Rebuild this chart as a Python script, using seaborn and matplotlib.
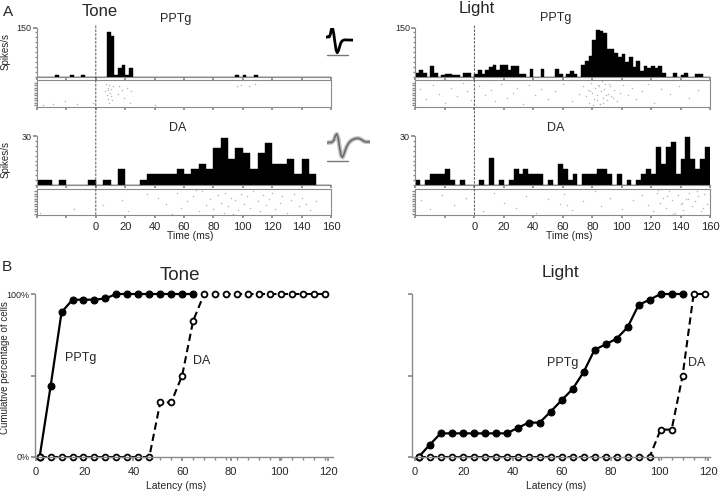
import matplotlib
matplotlib.use("Agg")
import matplotlib.pyplot as plt
import numpy as np
import pandas as pd
import seaborn as sns
from matplotlib.patches import ConnectionPatch

W, H = 720, 492

# ---- panel A: firing rate per bin (spikes/s), bins run from -40 to 160 ms ----
tone_pptg_rate = [
    0, 0, 0, 0, 0, 7, 0, 0, 0, 7,
    0, 0, 7, 0, 0, 0, 0, 0, 0, 135,
    125, 7, 27, 35, 7, 27, 0, 0, 0, 0,
    0, 0, 0, 0, 0, 0, 0, 0, 0, 0,
    0, 0, 0, 0, 0, 0, 0, 0, 0, 0,
    0, 0, 0, 0, 7, 0, 7, 0, 0, 7,
    0, 0, 0, 0, 0, 0, 0, 0, 0, 0,
    0, 0, 0, 0, 0, 0, 0, 0, 0, 0,
]
tone_da_rate = [
    3, 3, 0, 3, 0, 0, 0, 3, 0, 3,
    0, 9.5, 0, 0, 3, 6.5, 6.5, 6.5, 6.5, 9.5,
    6.5, 9.5, 13, 9.5, 22.5, 28.5, 16, 22.5, 19.5, 9.5,
    19.5, 25.5, 13, 13, 16, 6.5, 16, 6.5, 0, 0,
]
light_pptg_rate = [
    13, 20, 13, 0, 32, 12, 0, 6, 10, 10,
    6, 6, 0, 13, 13, 0, 8, 22, 10, 22,
    30, 37, 22, 36, 36, 22, 34, 34, 8, 8,
    0, 24, 0, 0, 24, 0, 0, 0, 24, 8,
    0, 8, 18, 8, 0, 36, 47, 65, 113, 142,
    140, 132, 86, 86, 72, 60, 70, 44, 60, 31,
    50, 18, 34, 27, 34, 27, 34, 13, 0, 0,
    13, 0, 6, 13, 0, 0, 8, 8, 0, 0,
]
light_da_rate = [
    3, 0, 3, 6.5, 6.5, 6.5, 10, 3, 0, 3,
    0, 0, 0, 3, 0, 16.5, 0, 3, 0, 3,
    9.5, 6.5, 9.5, 6.5, 6.5, 6.5, 0, 3, 0, 13,
    9.5, 3, 6.5, 0, 6.5, 6.5, 6.5, 9.5, 9.5, 6.5,
    0, 6.5, 0, 3, 0, 3, 6.5, 9.5, 6.5, 23,
    13, 23, 26.5, 6.5, 16, 29.5, 16, 9.5, 16, 23,
]

# raster ticks: spike time (ms) and trial number
tone_pptg_spk = [-29, -21, -13, -2, 6, 7, 7.5, 8, 8, 8.5, 9, 9, 9.5, 10, 10, 11, 12, 15, 16, 18,
                 19, 21, 23, 24, 96, 99, 104, 108, 40, -36]
tone_pptg_trial = [2, 4, 2, 3, 12, 18, 9, 15, 6, 13, 3, 17, 11, 8, 14, 5, 16, 10, 16, 13,
                   7, 15, 3, 12, 16, 17, 16, 18, 1, 1]
tone_da_spk = [-38, -15, 5, 18, 22, 35, 42, 48, 55, 58, 62, 66, 70, 72, 75, 78, 80, 83, 85, 87,
               88, 90, 92, 95, 97, 99, 101, 103, 105, 107, 110, 112, 114, 116, 118, 120, 122, 125, 127, 130,
               133, 135, 138, 140, 143, 146, 150, 52, 68, 93]
tone_da_trial = [2, 5, 8, 12, 3, 17, 14, 9, 18, 6, 11, 15, 3, 19, 8, 13, 5, 16, 10, 2,
                 18, 7, 14, 12, 4, 17, 9, 15, 6, 19, 11, 3, 16, 8, 13, 18, 5, 10, 15, 2,
                 12, 17, 7, 14, 9, 4, 11, 1, 20, 1]
light_pptg_spk = [-37, -33, -28, -24, -20, -16, -12, -8, -5, -2, 3, 7, 11, 14, 18, 22, 26, 29, 33, 37,
                  41, 45, 50, 55, 60, 66, 71, 74, 76, 77, 78, 79, 80, 81, 82, 83, 84, 85, 86, 87,
                  88, 89, 90, 91, 92, 93, 95, 97, 99, 101, 104, 107, 110, 114, 118, 122, 127, 133, 139, 146,
                  152, 80.5, 83.5, 86.5, 89.5, 78.5, 84.5, 87.5, 91.5, 94]
light_pptg_trial = [14, 6, 17, 10, 3, 15, 8, 19, 12, 5, 16, 9, 13, 4, 18, 7, 11, 15, 2, 17,
                    9, 14, 6, 12, 18, 4, 10, 16, 8, 13, 3, 19, 11, 6, 15, 9, 17, 2, 12, 7,
                    14, 18, 5, 10, 16, 8, 13, 4, 11, 17, 9, 15, 6, 12, 18, 3, 14, 10, 16, 7,
                    13, 1, 5, 20, 9, 12, 16, 3, 18, 7]
light_da_spk = [-36, -30, -22, -14, -6, 6, 13, 20, 28, 35, 42, 50, 58, 61, 66, 74, 82, 86, 92, 100,
                108, 114, 118, 121, 124, 126, 128, 130, 132, 134, 136, 138, 140, 142, 144, 146, 148, 150, 152, 154,
                156, 158, 125, 135, 145, 155, 131, 141, 151, 63]
light_da_trial = [12, 5, 16, 8, 14, 3, 18, 10, 6, 15, 2, 13, 9, 17, 4, 11, 19, 7, 14, 5,
                  12, 16, 8, 3, 18, 10, 14, 6, 19, 12, 2, 16, 9, 4, 13, 18, 7, 11, 15, 3,
                  17, 9, 20, 1, 13, 6, 15, 10, 19, 8]

# spike waveform insets (arbitrary units)
pptg_wave = [0, 0.05, 0.1, 0.05, 0.3, 0.9, 1.0, 0.4, -0.5, -1.3, -1.6, -1.4, -1.0, -0.6, -0.4,
             -0.3, -0.26, -0.25, -0.25, -0.26, -0.26, -0.26, -0.27, -0.27, -0.27]
da_wave = [0, 0, 0.05, 0, 0.1, 0.3, 0.8, 1.0, 0.5, -0.6, -1.5, -1.68, -1.3, -0.8, -0.4, -0.1,
           0.1, 0.25, 0.35, 0.42, 0.47, 0.5, 0.5, 0.45, 0.35, 0.25, 0.15, 0.1, 0.1, 0.1, 0.1]

# ---- panel B: cumulative percentage of responsive cells by latency ----
latency = [1.5, 6, 10.5, 15, 19.5, 24, 28.5, 33, 37.5, 42, 46.5, 51, 55.5, 60, 64.5,
           69, 73.5, 78, 82.5, 87, 91.5, 96, 100.5, 105, 109.5, 114, 118.5]
tone_pptg_cum = [0, 43.4, 88.8, 96.5, 96.5, 96.5, 97.3, 100, 100, 100, 100, 100, 100, 100, 100]
tone_da_cum = [0, 0, 0, 0, 0, 0, 0, 0, 0, 0, 0, 33.5, 33.5, 50, 83.5,
               100, 100, 100, 100, 100, 100, 100, 100, 100, 100, 100, 100]
light_pptg_cum = [0, 7.4, 14.5, 14.5, 14.5, 14.5, 14.5, 14.5, 14.5, 17.8, 21.1, 21.1, 27.8, 34.8, 41.7,
                  52.1, 65.8, 69.1, 72.6, 79.6, 93.3, 96.5, 100, 100, 100]
light_da_cum = [0, 0, 0, 0, 0, 0, 0, 0, 0, 0, 0, 0, 0, 0, 0,
                0, 0, 0, 0, 0, 0, 0, 16.8, 16.8, 50, 100, 100]

time_ticks = [-40, -20, 0, 20, 40, 60, 80, 100, 120, 140, 160]
time_labels = ["", "", "0", "20", "40", "60", "80", "100", "120", "140", "160"]
lat_ticks = [0, 20, 40, 60, 80, 100, 120]

sns.set_theme(style="white")
plt.rcParams["font.family"] = ["Liberation Sans", "DejaVu Sans"]
SPINE = "#8a8a8a"


def px_axes(fig, x0, y0, x1, y1):
    return fig.add_axes([x0 / W, 1 - y1 / H, (x1 - x0) / W, (y1 - y0) / H])


def ftext(fig, x, y, s, size, **kw):
    fig.text(x / W, 1 - y / H, s, fontsize=size, ha=kw.pop("ha", "center"),
             va=kw.pop("va", "center"), **kw)


def draw_hist(ax, rate, ymax):
    n = len(rate)
    width = 200 / n
    df = pd.DataFrame({"t": [-40 + width * (i + 0.5) for i in range(n)], "rate": rate})
    sns.histplot(data=df, x="t", weights="rate", bins=n, binrange=(-40, 160), color="black",
                 alpha=1, edgecolor="black", linewidth=0.3, ax=ax)
    ax.set_xlim(-40, 160)
    ax.set_ylim(0, ymax)
    ax.set_xlabel("")
    ax.set_ylabel("")
    for side in ("top", "right"):
        ax.spines[side].set_visible(False)
    for side in ("left", "bottom"):
        ax.spines[side].set_color(SPINE)
        ax.spines[side].set_linewidth(0.8)
    ax.set_xticks(time_ticks)
    ax.set_xticklabels([])
    ax.set_yticks([ymax])
    ax.set_yticklabels([str(ymax)])
    ax.set_yticks(np.linspace(0, ymax, 11), minor=True)
    ax.tick_params(axis="x", length=2, color=SPINE, direction="out", bottom=True)
    ax.tick_params(axis="y", which="major", length=3, color=SPINE, labelsize=6.5, pad=1, left=True)
    ax.tick_params(axis="y", which="minor", length=1.5, color=SPINE, left=True)


def draw_raster(ax, spk, trial, labels):
    sns.scatterplot(x=spk, y=trial, s=1.2, color="#b8b8b8", linewidth=0, ax=ax)
    ax.set_xlim(-40, 160)
    ax.set_ylim(0, 21)
    ax.set_xlabel("")
    ax.set_ylabel("")
    for side in ax.spines:
        ax.spines[side].set_color(SPINE)
        ax.spines[side].set_linewidth(0.8)
    ax.set_xticks(time_ticks)
    ax.set_xticklabels(time_labels if labels else [])
    ax.set_yticks([])
    ax.set_yticks(np.arange(1, 21, 2), minor=True)
    ax.tick_params(axis="x", length=2, color=SPINE, labelsize=8, pad=3, bottom=True)
    ax.tick_params(axis="y", which="minor", length=2, color=SPINE, left=True)


def draw_cum(ax, pptg, da, xlim, show_ylabels):
    sns.lineplot(x=latency[:len(pptg)], y=pptg, color="black", linewidth=1.6,
                 marker="o", markersize=5, markerfacecolor="black", markeredgecolor="black",
                 clip_on=False, ax=ax)
    sns.lineplot(x=latency, y=da, color="black", linewidth=1.5, linestyle=(0, (3.5, 2)),
                 marker="o", markersize=4.2, markerfacecolor="white", markeredgecolor="black",
                 markeredgewidth=1.3, clip_on=False, ax=ax)
    ax.set_xlim(*xlim)
    ax.set_ylim(0, 100)
    ax.set_xlabel("")
    ax.set_ylabel("")
    for side in ("top", "right"):
        ax.spines[side].set_visible(False)
    for side in ("left", "bottom"):
        ax.spines[side].set_color(SPINE)
        ax.spines[side].set_linewidth(1.0)
    ax.set_xticks(lat_ticks)
    ax.set_xticks(latency, minor=True)
    ax.set_yticks([0, 50, 100])
    ax.set_yticklabels(["0%", "", "100%"] if show_ylabels else [])
    ax.tick_params(axis="x", which="major", length=3, color=SPINE, labelsize=8, pad=4, bottom=True)
    ax.tick_params(axis="x", which="minor", length=2, color=SPINE, bottom=True)
    ax.tick_params(axis="y", length=3, color=SPINE, labelsize=6.5, pad=1, left=True)


def draw_wave(ax, wave, ylim, bar, halo):
    x = np.arange(len(wave))
    if halo:
        sns.lineplot(x=x, y=wave, color="#c4c4c4", linewidth=3.2, ax=ax)
        sns.lineplot(x=x, y=wave, color="#6a6a6a", linewidth=1.2, ax=ax)
    else:
        sns.lineplot(x=x, y=wave, color="black", linewidth=2.0, ax=ax)
    ax.plot(bar[0], bar[1], color="#777777", linewidth=1.0)
    ax.set_xlim(0, len(wave) - 1)
    ax.set_ylim(*ylim)
    ax.axis("off")


fig = plt.figure(figsize=(W / 100, H / 100), dpi=100)

columns = [
    (37, 331, tone_pptg_rate, tone_da_rate, tone_pptg_spk, tone_pptg_trial, tone_da_spk, tone_da_trial),
    (415.5, 710, light_pptg_rate, light_da_rate, light_pptg_spk, light_pptg_trial, light_da_spk, light_da_trial),
]
for x0, x1, pr, dr, ps, pt, ds, dt in columns:
    ax_h1 = px_axes(fig, x0, 27.5, x1, 77)
    draw_hist(ax_h1, pr, 150)
    ax_r1 = px_axes(fig, x0, 80, x1, 106.5)
    draw_raster(ax_r1, ps, pt, False)
    ax_h2 = px_axes(fig, x0, 136, x1, 185)
    draw_hist(ax_h2, dr, 30)
    ax_r2 = px_axes(fig, x0, 189, x1, 215)
    draw_raster(ax_r2, ds, dt, True)
    zero = ConnectionPatch(xyA=(0, 155), coordsA=ax_h1.transData, xyB=(0, 0), coordsB=ax_r2.transData,
                           color="#555555", linewidth=0.7, linestyle=(0, (2, 2)))
    fig.add_artist(zero)

ax_w1 = px_axes(fig, 325.7, 28, 353.3, 57)
draw_wave(ax_w1, pptg_wave, (-2.05, 1.0), ([0.9, 19.1], [-1.85, -1.85]), False)
ax_w2 = px_axes(fig, 326.7, 132, 370, 163)
draw_wave(ax_w2, da_wave, (-2.34, 1.23), ([0, 15], [-2.07, -2.07]), True)

ax_b1 = px_axes(fig, 35, 294, 333, 457)
draw_cum(ax_b1, tone_pptg_cum, tone_da_cum, (-0.4, 121.9), True)
ax_b1.text(12, 60.7, "PPTg", fontsize=9, ha="left", va="center")
ax_b1.text(64.4, 59, "DA", fontsize=9, ha="left", va="center")

ax_b2 = px_axes(fig, 412, 294, 710, 457)
draw_cum(ax_b2, light_pptg_cum, light_da_cum, (-1.2, 120.7), False)
ax_b2.text(54, 57.7, "PPTg", fontsize=9, ha="left", va="center")
ax_b2.text(111.7, 57.7, "DA", fontsize=9, ha="left", va="center")

# labels and titles
ftext(fig, 8, 12, "A", 11)
ftext(fig, 7, 267, "B", 11)
ftext(fig, 100, 11, "Tone", 12)
ftext(fig, 477, 8, "Light", 12)
ftext(fig, 176, 19, "PPTg", 9)
ftext(fig, 556, 18, "PPTg", 9)
ftext(fig, 178, 128, "DA", 9)
ftext(fig, 556, 128, "DA", 9)
ftext(fig, 6, 52, "Spikes/s", 7, rotation=90)
ftext(fig, 6, 160, "Spikes/s", 7, rotation=90)
ftext(fig, 190, 236, "Time (ms)", 7.5)
ftext(fig, 569, 236, "Time (ms)", 7.5)
ftext(fig, 180, 276, "Tone", 13.5)
ftext(fig, 560, 272, "Light", 12.5)
ftext(fig, 176, 486, "Latency (ms)", 7.5)
ftext(fig, 556, 486, "Latency (ms)", 7.5)
ftext(fig, 5, 368, "Cumulative percentage of cells", 7, rotation=90)

fig.savefig("out.png", dpi=100)
plt.close(fig)
